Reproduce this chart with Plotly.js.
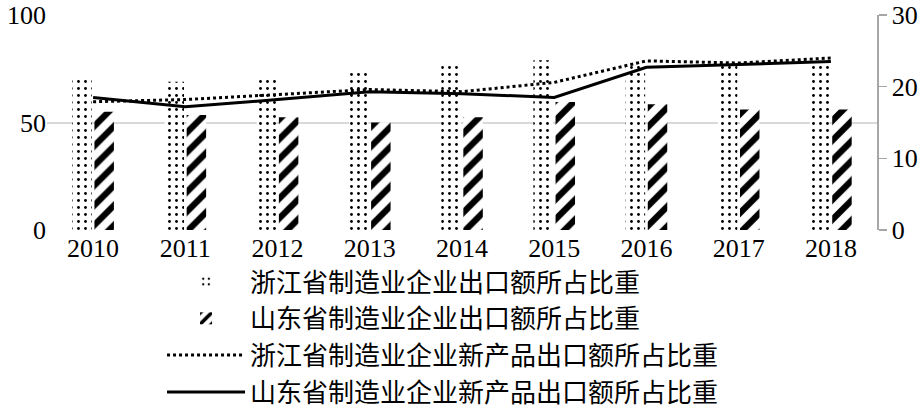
<!DOCTYPE html>
<html>
<head>
<meta charset="utf-8">
<script src="https://cdn.plot.ly/plotly-3.0.1.min.js"></script>
<style>html,body{margin:0;padding:0;background:#fff;}#chart{width:921px;height:411px;}</style>
</head>
<body>
<div id="chart"></div>
<script>
const years = ['2010','2011','2012','2013','2014','2015','2016','2017','2018'];
const zjExportShare = [70, 69, 71, 74, 76.5, 79, 78, 76.5, 76.5];
const sdExportShare = [55, 53.5, 52.5, 50, 52.5, 59.5, 58.5, 56, 56];
const zjNewProductShare = [17.9, 18.2, 18.9, 19.6, 19.3, 20.6, 23.6, 23.3, 24.0];
const sdNewProductShare = [18.5, 17.2, 18.2, 19.3, 19.0, 18.5, 22.7, 23.1, 23.5];
const seriesNames = [
  '浙江省制造业企业出口额所占比重',
  '山东省制造业企业出口额所占比重',
  '浙江省制造业企业新产品出口额所占比重',
  '山东省制造业企业新产品出口额所占比重'
];

const traces = [
  {type:'bar', x:years, y:zjExportShare, name:seriesNames[0], yaxis:'y',
   marker:{color:'#fff', line:{width:0}, pattern:{shape:'.', fgcolor:'#000', bgcolor:'#fff', size:7, solidity:0.13}}},
  {type:'bar', x:years, y:sdExportShare, name:seriesNames[1], yaxis:'y',
   marker:{color:'#fff', line:{width:0}, pattern:{shape:'/', fgcolor:'#000', bgcolor:'#fff', size:14, solidity:0.45}}},
  {type:'scatter', mode:'lines', x:years, y:zjNewProductShare, name:seriesNames[2], yaxis:'y2',
   line:{color:'#000', width:3, dash:'dot'}},
  {type:'scatter', mode:'lines', x:years, y:sdNewProductShare, name:seriesNames[3], yaxis:'y2',
   line:{color:'#000', width:3}}
];

const tickFont = {family:'"Liberation Serif", "Times New Roman", serif', size:26, color:'#000'};
const layout = {
  width:921, height:411,
  margin:{l:47, r:44, t:15, b:181, autoexpand:false},
  paper_bgcolor:'#fff', plot_bgcolor:'#fff',
  barmode:'group', bargap:0.52, bargroupgap:0.12,
  showlegend:true,
  legend:{x:0.1386, xref:'paper', y:0.372, yref:'container', xanchor:'left', yanchor:'top', orientation:'v',
    font:{family:'"Noto Sans CJK SC", sans-serif', size:26, color:'#000'},
    itemwidth:78, bgcolor:'rgba(0,0,0,0)', traceorder:'normal'},
  xaxis:{type:'category', tickfont:tickFont, showline:false, ticks:'', showgrid:false, zeroline:false, fixedrange:true},
  yaxis:{range:[0,100], tickvals:[0,50,100], tickfont:tickFont, showgrid:true, gridcolor:'#d9d9d9', gridwidth:2,
    zeroline:false, showline:false, ticks:'', ticklen:0, ticklabeloverflow:'allow'},
  yaxis2:{range:[0,30], tickvals:[0,10,20,30], overlaying:'y', side:'right', tickfont:tickFont, showgrid:false,
    zeroline:false, showline:true, linecolor:'#a6a6a6', linewidth:1.5, ticks:'outside', ticklen:8, tickcolor:'#a6a6a6', tickwidth:1.5,
    ticklabeloverflow:'allow'}
};
Plotly.newPlot('chart', traces, layout, {displayModeBar:false, staticPlot:true});
</script>
</body>
</html>
